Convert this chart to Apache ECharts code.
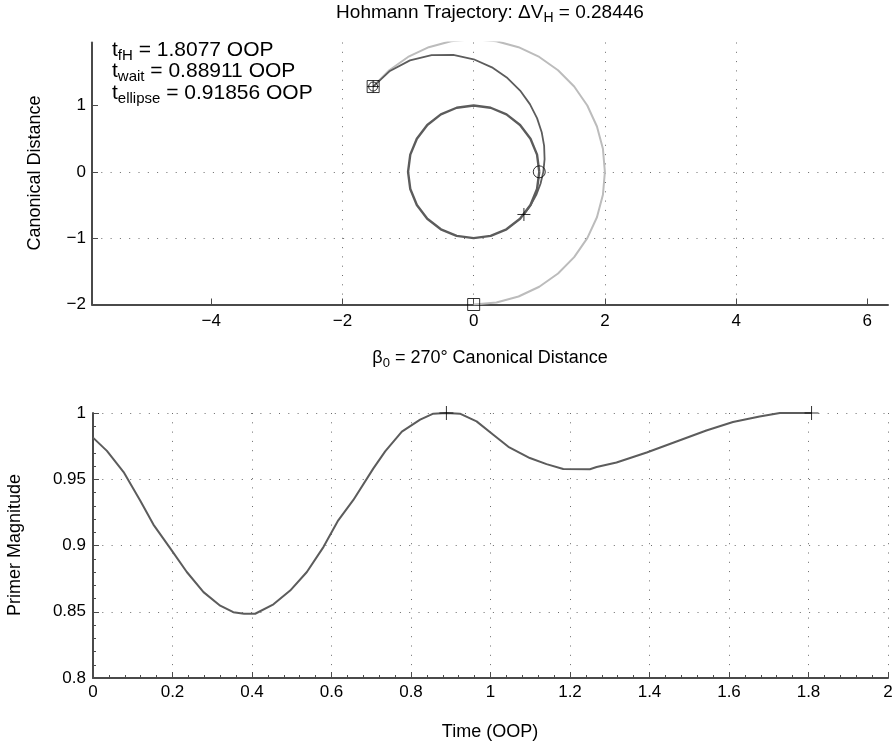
<!DOCTYPE html>
<html><head><meta charset="utf-8">
<script src="https://cdn.jsdelivr.net/npm/echarts@6/dist/echarts.min.js"></script>
<style>html,body{margin:0;padding:0;background:#fff}#c{width:896px;height:749px}</style>
</head><body><div id="c"></div>
<script>
// ---------- Top plot: trajectories (canonical distance) ----------
const chaserOrbit = [[1,0],[0.966,0.259],[0.866,0.5],[0.707,0.707],[0.5,0.866],[0.259,0.966],[0,1],[-0.259,0.966],[-0.5,0.866],[-0.707,0.707],[-0.866,0.5],[-0.966,0.259],[-1,0],[-0.966,-0.259],[-0.866,-0.5],[-0.707,-0.707],[-0.5,-0.866],[-0.259,-0.966],[0,-1],[0.259,-0.966],[0.5,-0.866],[0.707,-0.707],[0.866,-0.5],[0.966,-0.259],[1,0]];
const transferArc = [[0.766,-0.643],[0.869,-0.502],[0.954,-0.347],[1.019,-0.180],[1.062,0],[1.081,0.191],[1.074,0.391],[1.037,0.598],[0.966,0.810],[0.857,1.021],[0.708,1.226],[0.515,1.414],[0.278,1.576],[0,1.697],[-0.311,1.763],[-0.641,1.761],[-0.971,1.681],[-1.276,1.521],[-1.532,1.286]];
const targetArc = [[0,-2],[0.347,-1.970],[0.684,-1.879],[1.0,-1.732],[1.286,-1.532],[1.532,-1.286],[1.732,-1.0],[1.879,-0.684],[1.970,-0.347],[2,0],[1.970,0.347],[1.879,0.684],[1.732,1.0],[1.532,1.286],[1.286,1.532],[1.0,1.732],[0.684,1.879],[0.347,1.970],[0,2],[-0.347,1.970],[-0.684,1.879],[-1.0,1.732],[-1.286,1.532],[-1.532,1.286]];
const chaserStart = [[1,0]];
const burnPoint = [[0.766,-0.643]];
const targetStart = [[0,-2]];
const rendezvous = [[-1.532,1.286]];
const topXTicks = [-4,-2,0,2,4,6];
const topYTicks = [-2,-1,0,1];

// ---------- Bottom plot: primer magnitude vs time ----------
const primerTime = [0,0.035,0.077,0.119,0.152,0.194,0.236,0.278,0.32,0.353,0.38,0.408,0.454,0.496,0.538,0.58,0.617,0.655,0.705,0.735,0.777,0.823,0.856,0.889,0.923,0.965,1.007,1.045,1.099,1.141,1.183,1.25,1.267,1.317,1.393,1.468,1.543,1.61,1.677,1.728,1.8077];
const primerMag  = [0.9814,0.9714,0.9554,0.9337,0.9158,0.898,0.880,0.8648,0.8546,0.8497,0.8485,0.8485,0.8556,0.8660,0.880,0.899,0.919,0.9344,0.958,0.971,0.986,0.995,0.9995,1.0,0.9995,0.9937,0.9836,0.9745,0.966,0.9614,0.9578,0.9576,0.9592,0.9626,0.9702,0.9785,0.9868,0.9932,0.9974,1.0,1.0];
const primerPeaks = [[0.8891,1],[1.8077,1]];

const FF = '"Liberation Sans", Arial, Helvetica, sans-serif';
const AX = '#4a4a4a';
const DARK = '#5c5c5c';
const LIGHT = '#bcbcbc';
const PLUS = 'path://M5,0L5,10M0,5L10,5';
const minus = v => String(v).replace('-', '\u2212');

const chart = echarts.init(document.getElementById('c'), null, {renderer:'canvas'});

function richDef(size){
  const lh = size + 8;
  return {
    n:{fontSize:size, fontFamily:FF, fill:'#000', lineHeight:lh},
    s:{fontSize:Math.round(size*0.72), fontFamily:FF, fill:'#000', lineHeight:lh, padding:[11,0,0,0]}
  };
}
function txt(x, y, text, size, align, rot){
  return {type:'text', x:x, y:y, rotation: rot||0, silent:true,
    style:{text:text, rich:richDef(size), fontSize:size, fontFamily:FF, fill:'#000', align:align||'center', verticalAlign:'middle'}};
}

function grid(showMin, showMax){
  return {show:true, showMinLine:showMin, showMaxLine:showMax, lineStyle:{color:'#6a6a6a', width:1, type:[1,8.3]}};
}
const axisLine = {show:true, onZero:false, lineStyle:{color:AX, width:2}};
const tick = {show:true, inside:true, length:6, lineStyle:{color:AX, width:1}};
const minor = {show:true, splitNumber:5, length:3, lineStyle:{color:AX, width:1}};
const lab = (m) => ({color:'#000', fontSize:17, fontFamily:FF, margin:m, formatter:minus});

const scat = (data, sym, size, xi) => ({type:'scatter', xAxisIndex:xi, yAxisIndex:xi, data:data, symbol:sym, symbolSize:size,
  itemStyle:{color:'transparent', borderColor:'#000', borderWidth:1}, z:5, silent:true});

const option = {
  animation:false,
  backgroundColor:'#fff',
  grid:[{left:92, top:42.5, width:796, height:262},{left:93, top:413, width:795, height:265}],
  xAxis:[
    {gridIndex:0, type:'value', min:-5.817, max:6.315,
     axisLine:axisLine, axisTick:Object.assign({customValues:topXTicks}, tick), minorTick:{show:false},
     axisLabel:Object.assign({customValues:topXTicks}, lab(8)), splitLine:grid(false,false)},
    {gridIndex:1, type:'value', min:0, max:2, interval:0.2,
     axisLine:axisLine, axisTick:tick, minorTick:minor, axisLabel:lab(6), splitLine:grid(false,true)}
  ],
  yAxis:[
    {gridIndex:0, type:'value', min:-2, max:1.95,
     axisLine:axisLine, axisTick:Object.assign({customValues:topYTicks}, tick), minorTick:{show:false},
     axisLabel:Object.assign({customValues:topYTicks}, lab(6)), splitLine:grid(false,false)},
    {gridIndex:1, type:'value', min:0.8, max:1, interval:0.05,
     axisLine:axisLine, axisTick:tick, minorTick:minor, axisLabel:lab(7), splitLine:grid(false,true)}
  ],
  series:[
    {type:'line', xAxisIndex:0, yAxisIndex:0, data:targetArc, showSymbol:false, lineStyle:{color:LIGHT, width:2}, z:2, silent:true},
    {type:'line', xAxisIndex:0, yAxisIndex:0, data:chaserOrbit, showSymbol:false, lineStyle:{color:DARK, width:2.4}, z:3, silent:true},
    {type:'line', xAxisIndex:0, yAxisIndex:0, data:transferArc, showSymbol:false, lineStyle:{color:DARK, width:1.8}, z:3, silent:true},
    scat(chaserStart, 'circle', 12, 0),
    scat(burnPoint, PLUS, 13, 0),
    scat(targetStart, 'rect', 12, 0),
    scat(rendezvous, 'rect', 12, 0),
    scat(rendezvous, 'circle', 9, 0),
    scat(rendezvous, PLUS, 12, 0),
    {type:'line', xAxisIndex:1, yAxisIndex:1, data:primerTime.map((t,i)=>[t, primerMag[i]]), showSymbol:false, lineStyle:{color:DARK, width:2}, z:3, silent:true},
    scat(primerPeaks, PLUS, 14, 1)
  ],
  graphic:[
    txt(490, 13, '{n|Hohmann Trajectory: \u0394V}{s|H}{n| = 0.28446}', 19),
    txt(112, 50, '{n|t}{s|fH}{n| = 1.8077 OOP}', 21, 'left'),
    txt(112, 71, '{n|t}{s|wait}{n| = 0.88911 OOP}', 21, 'left'),
    txt(112, 93, '{n|t}{s|ellipse}{n| = 0.91856 OOP}', 21, 'left'),
    txt(490, 358, '{n|\u03B2}{s|0}{n| = 270\u00B0 Canonical Distance}', 18),
    txt(490, 732, '{n|Time (OOP)}', 18),
    txt(35, 173, '{n|Canonical Distance}', 18, 'center', Math.PI/2),
    txt(15, 545, '{n|Primer Magnitude}', 18, 'center', Math.PI/2)
  ]
};
chart.setOption(option);
</script>
</body></html>
